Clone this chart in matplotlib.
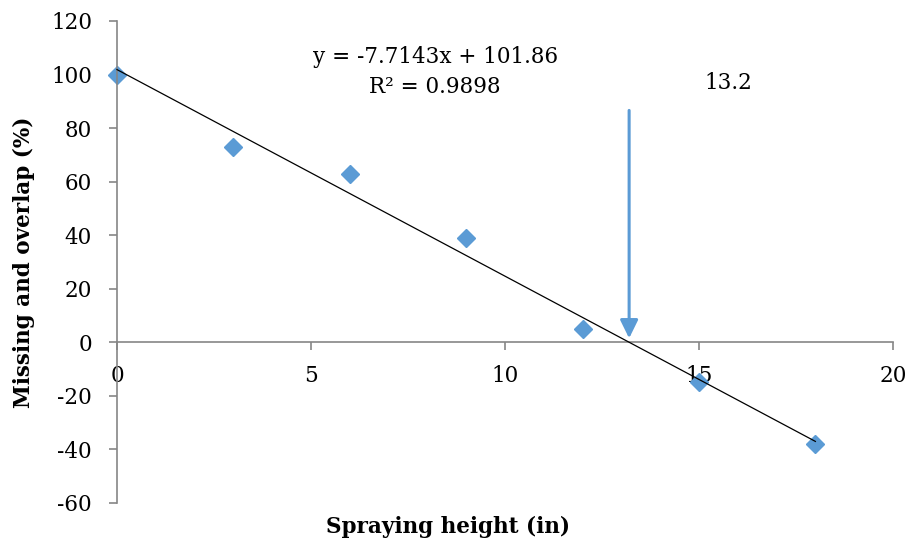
import numpy as np
import matplotlib.pyplot as plt
plt.switch_backend('agg')

# spraying height (in) vs missing/overlap (%)
height = [0, 3, 6, 9, 12, 15, 18]
missing = [100, 73, 63, 39, 5, -15, -38]

x_ticks = [0, 5, 10, 15, 20]
y_ticks = [-60, -40, -20, 0, 20, 40, 60, 80, 100, 120]

eq_text = 'y = -7.7143x + 101.86'
r2_text = 'R² = 0.9898'
cross_x = 13.2
arrow_top = 86.6
arrow_tip = 1.5

blue = '#5B9BD5'
axis_grey = '#868686'

plt.rcParams['font.family'] = ['DejaVu Serif']
plt.rcParams['axes.unicode_minus'] = False
fs = 15.5

fig = plt.figure(figsize=(9.11, 5.44), dpi=100)
ax = fig.add_axes([0.1284, 0.0754, 0.8518, 0.886])

# linear trend line over the data range
slope, icpt = np.polyfit(height, missing, 1)
xs = np.array([min(height), max(height)])
ax.plot(xs, slope * xs + icpt, color='black', lw=0.9, zorder=3, clip_on=False)

ax.plot(height, missing, linestyle='none', marker='D', ms=9.5,
        color=blue, mec=blue, zorder=2, clip_on=False)

ax.annotate('', xy=(cross_x, arrow_tip), xytext=(cross_x, arrow_top),
            arrowprops=dict(arrowstyle='-|>,head_length=0.55,head_width=0.27',
                            color=blue, lw=2.2, mutation_scale=20,
                            shrinkA=0, shrinkB=0))
ax.text(15.75, 97, '13.2', fontsize=fs, ha='center', va='center')
ax.text(8.2, 106.4, eq_text, fontsize=fs, ha='center', va='center')
ax.text(8.2, 95.2, r2_text, fontsize=fs, ha='center', va='center')

ax.set_xlim(0, 20)
ax.set_ylim(-60, 120)
ax.set_xticks(x_ticks)
ax.set_yticks(y_ticks)

for s in ['top', 'right']:
    ax.spines[s].set_visible(False)
ax.spines['bottom'].set_position(('data', 0))
for s in ['left', 'bottom']:
    ax.spines[s].set_color(axis_grey)
    ax.spines[s].set_linewidth(1.2)
ax.tick_params(axis='both', direction='out', length=6, width=1.2,
               color=axis_grey, labelsize=fs)
ax.tick_params(axis='y', pad=12)
ax.tick_params(axis='x', pad=10)

ax.set_ylabel('Missing and overlap (%)', fontsize=fs, fontweight='bold')
ax.yaxis.set_label_coords(-0.106, 0.5)
fig.text(448 / 911, 1 - 527 / 544, 'Spraying height (in)', fontsize=fs,
         fontweight='bold', ha='center', va='center')

plt.savefig('out.png')
plt.close()
